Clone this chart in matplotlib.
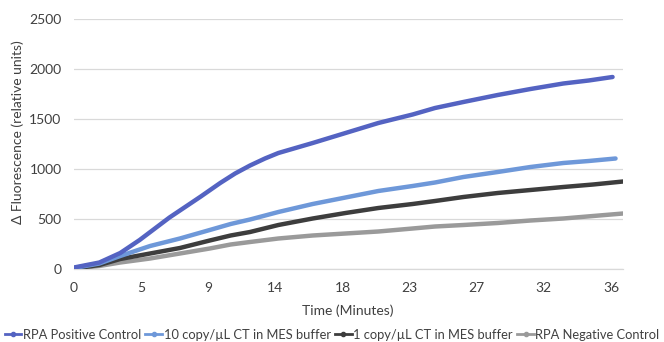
import matplotlib
matplotlib.use("Agg")
import matplotlib.pyplot as plt
from matplotlib.lines import Line2D

# ---- data ----
pos_t = [0, 1.7, 3.1, 4.4, 6.4, 8.5, 9.8, 10.8, 11.8, 12.8, 13.7, 16.0, 18.2, 20.4, 22.7, 24.2, 26.1, 28.4, 30.6, 32.8, 34.5, 36.1]
pos_v = [15, 65, 160, 290, 515, 725, 860, 955, 1035, 1105, 1160, 1260, 1360, 1460, 1545, 1610, 1670, 1740, 1800, 1855, 1885, 1920]

ten_t = [0, 1.7, 3.1, 5.1, 7.1, 9.1, 10.5, 11.8, 13.7, 16.0, 18.2, 20.4, 22.7, 24.2, 26.1, 28.4, 30.6, 32.8, 34.5, 36.3]
ten_v = [10, 55, 130, 230, 305, 390, 450, 495, 570, 650, 715, 780, 830, 865, 920, 970, 1020, 1060, 1080, 1105]

one_t = [0, 1.7, 3.1, 5.1, 7.1, 9.1, 10.5, 11.8, 13.7, 16.0, 18.2, 20.4, 22.7, 24.2, 26.1, 28.4, 30.6, 32.8, 34.8, 36.8]
one_v = [5, 40, 100, 155, 210, 285, 335, 370, 440, 505, 560, 610, 650, 680, 720, 760, 790, 820, 845, 875]

neg_t = [0, 1.7, 3.1, 5.1, 7.1, 9.1, 10.5, 11.8, 13.7, 16.0, 18.2, 20.4, 22.7, 24.2, 26.1, 28.4, 30.6, 32.8, 34.8, 36.8]
neg_v = [5, 30, 65, 105, 155, 205, 245, 270, 305, 335, 355, 375, 405, 425, 440, 460, 485, 505, 530, 555]

labels = ["RPA Positive Control", "10 copy/\u00b5L CT in MES buffer",
          "1 copy/\u00b5L CT in MES buffer", "RPA Negative Control"]
colors = ["#5463C2", "#6E98D9", "#3D3D3D", "#9A9A9A"]

xtick_pos = [0, 4.5, 9, 13.5, 18, 22.5, 27, 31.5, 36]
xtick_lab = ["0", "5", "9", "14", "18", "23", "27", "32", "36"]
yticks = [0, 500, 1000, 1500, 2000, 2500]

# ---- figure ----
plt.rcParams['font.family'] = ['Lato', 'DejaVu Sans']
fig = plt.figure(figsize=(6.64, 3.42), dpi=100)
ax = fig.add_axes([74/664, 1-269/342, (623-74)/664, (269-19)/342])

series = [(pos_t, pos_v), (ten_t, ten_v), (one_t, one_v), (neg_t, neg_v)]
for (t, v), c in zip(reversed(series), reversed(colors)):
    ax.plot(t, v, color=c, lw=3.2, solid_capstyle='round', solid_joinstyle='round', zorder=3)

ax.set_xlim(0, 36.8)
ax.set_ylim(0, 2500)
ax.set_xticks(xtick_pos)
ax.set_xticklabels(xtick_lab)
ax.set_yticks(yticks)
ax.grid(axis='y', color='#D9D9D9', lw=0.9, zorder=0)
ax.set_axisbelow(True)
for s in ['top', 'right', 'left']:
    ax.spines[s].set_visible(False)
ax.spines['bottom'].set_color('#D9D9D9')
ax.spines['bottom'].set_linewidth(0.9)
ax.tick_params(axis='both', length=0, labelsize=10, labelcolor='#404040')
ax.tick_params(axis='x', pad=9)
ax.tick_params(axis='y', pad=9)
ax.set_xlabel("Time (Minutes)", fontsize=10, color='#404040')
ax.xaxis.set_label_coords((348-74)/549, -(304-269)/250)
ax.set_ylabel("\u0394 Fluorescence (relative units)", fontsize=10, color='#404040')
ax.yaxis.set_label_coords(-(74-24)/549, (269-132)/250)

handles = [Line2D([0], [0], color=c, lw=2, marker='o', markersize=3) for c in colors]
fig.legend(handles, labels, loc='center', bbox_to_anchor=(0.5, 1-335/342), ncol=4,
           frameon=False, fontsize=9.3, handlelength=1.3, handletextpad=0.1,
           columnspacing=0.35, labelcolor='#404040', borderaxespad=0, borderpad=0)

fig.savefig("out.png", dpi=100)
